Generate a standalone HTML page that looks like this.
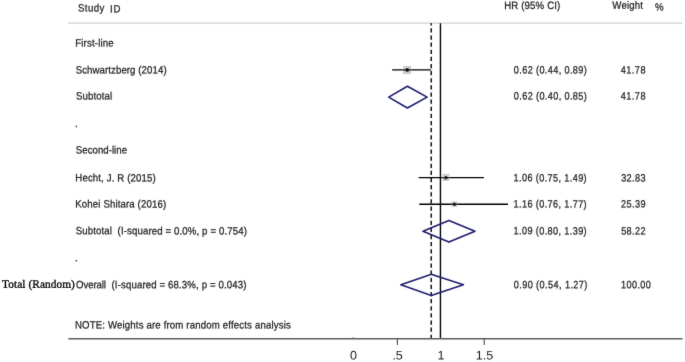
<!DOCTYPE html>
<html><head><meta charset="utf-8">
<style>
html,body{margin:0;padding:0;background:#fff;width:685px;height:362px;overflow:hidden;}
svg{display:block;}
text{font-family:"Liberation Sans",sans-serif;font-size:10.6px;fill:#222;stroke:#222;stroke-width:0.25px;white-space:pre;text-rendering:geometricPrecision;}
text.serif{font-family:"Liberation Serif",serif;font-size:11.3px;fill:#000;stroke:#000;stroke-width:0.3px;}
text.ax{font-size:12.5px;stroke:none;fill:#1a1a1a;}
</style></head>
<body>
<svg width="685" height="362" viewBox="0 0 685 362">
<defs><filter id="bl" x="0" y="0" width="685" height="362" filterUnits="userSpaceOnUse"><feConvolveMatrix order="3" kernelMatrix="0.012 0.06 0.012 0.06 0.712 0.06 0.012 0.06 0.012" divisor="1" edgeMode="duplicate"/></filter></defs>
<rect width="685" height="362" fill="#fff"/>
<g filter="url(#bl)">
<text x="0" y="11.5" class="s" textLength="28.964" lengthAdjust="spacing" transform="matrix(0.91 0.001 0 1 77.962 -0.0145)">Study</text>
<text x="0" y="12.6" class="s" textLength="11.485" lengthAdjust="spacing" transform="matrix(0.91 0.001 0 1 109.91 -0.0057)">ID</text>
<text x="0" y="8.9" class="s" textLength="61.637" lengthAdjust="spacing" transform="matrix(0.91 0.001 0 1 504.209 -0.0308)">HR (95% CI)</text>
<text x="0" y="8.8" class="s" textLength="33.531" lengthAdjust="spacing" transform="matrix(0.91 0.001 0 1 612.358 -0.0168)">Weight</text>
<text x="0" y="10.5" class="s" transform="matrix(0.92 0.001 0 1 655.052 0)">%</text>
<text x="0" y="46.6" class="s" textLength="42.33" lengthAdjust="spacing" transform="matrix(0.91 0.001 0 1 75.209 -0.0212)">First-line</text>
<text x="0" y="73.5" class="s" textLength="99.93" lengthAdjust="spacing" transform="matrix(0.91 0.001 0 1 75.662 -0.0500)">Schwartzberg (2014)</text>
<text x="0" y="99.6" class="s" textLength="39.872" lengthAdjust="spacing" transform="matrix(0.91 0.001 0 1 75.962 -0.0199)">Subtotal</text>
<text x="0" y="127.1" class="s" transform="matrix(0.92 0.001 0 1 74.91 0)">.</text>
<text x="0" y="153.5" class="s" textLength="56.227" lengthAdjust="spacing" transform="matrix(0.91 0.001 0 1 75.862 -0.0281)">Second-line</text>
<text x="0" y="181.4" class="s" textLength="88.34" lengthAdjust="spacing" transform="matrix(0.91 0.001 0 1 75.309 -0.0442)">Hecht, J. R (2015)</text>
<text x="0" y="207.6" class="s" textLength="99.769" lengthAdjust="spacing" transform="matrix(0.91 0.001 0 1 75.309 -0.0499)">Kohei Shitara (2016)</text>
<text x="0" y="234.4" class="s" textLength="188.172" lengthAdjust="spacing" transform="matrix(0.91 0.001 0 1 75.662 -0.0941)">Subtotal  (I-squared = 0.0%, p = 0.754)</text>
<text x="0" y="261.2" class="s" transform="matrix(0.92 0.001 0 1 74.91 0)">.</text>
<text x="0" y="287.7" class="serif" textLength="72.901" lengthAdjust="spacing" transform="matrix(1.0 0.001 0 1 1.996 -0.0365)">Total (Random)</text>
<text x="0" y="288.3" class="s" textLength="32.859" lengthAdjust="spacing" transform="matrix(0.91 0.001 0 1 76.043 -0.0164)">Overall</text>
<text x="0" y="288.3" class="s" textLength="148.348" lengthAdjust="spacing" transform="matrix(0.91 0.001 0 1 111.502 -0.0742)">(I-squared = 68.3%, p = 0.043)</text>
<text x="0" y="328.5" class="s" textLength="237.187" lengthAdjust="spacing" transform="matrix(0.91 0.001 0 1 74.909 -0.1186)">NOTE: Weights are from random effects analysis</text>
<text x="0" y="73.5" class="s" textLength="84.792" lengthAdjust="spacing" transform="matrix(0.86 0.001 0 1 513.844 -0.0424)">0.62 (0.44, 0.89)</text>
<text x="0" y="73.5" class="s" textLength="28.727" lengthAdjust="spacing" transform="matrix(0.86 0.001 0 1 620.791 -0.0144)">41.78</text>
<text x="0" y="99.6" class="s" textLength="84.792" lengthAdjust="spacing" transform="matrix(0.86 0.001 0 1 513.844 -0.0424)">0.62 (0.40, 0.85)</text>
<text x="0" y="99.6" class="s" textLength="28.727" lengthAdjust="spacing" transform="matrix(0.86 0.001 0 1 620.791 -0.0144)">41.78</text>
<text x="0" y="181.4" class="s" textLength="84.953" lengthAdjust="spacing" transform="matrix(0.86 0.001 0 1 513.606 -0.0425)">1.06 (0.75, 1.49)</text>
<text x="0" y="181.4" class="s" textLength="28.311" lengthAdjust="spacing" transform="matrix(0.86 0.001 0 1 621.153 -0.0142)">32.83</text>
<text x="0" y="207.6" class="s" textLength="84.953" lengthAdjust="spacing" transform="matrix(0.86 0.001 0 1 513.606 -0.0425)">1.16 (0.76, 1.77)</text>
<text x="0" y="207.6" class="s" textLength="28.477" lengthAdjust="spacing" transform="matrix(0.86 0.001 0 1 621.042 -0.0142)">25.39</text>
<text x="0" y="234.4" class="s" textLength="84.953" lengthAdjust="spacing" transform="matrix(0.86 0.001 0 1 513.606 -0.0425)">1.09 (0.80, 1.39)</text>
<text x="0" y="234.4" class="s" textLength="28.399" lengthAdjust="spacing" transform="matrix(0.86 0.001 0 1 621.135 -0.0142)">58.22</text>
<text x="0" y="288.3" class="s" textLength="85.606" lengthAdjust="spacing" transform="matrix(0.86 0.001 0 1 513.744 -0.0428)">0.90 (0.54, 1.27)</text>
<text x="0" y="288.3" class="s" textLength="34.942" lengthAdjust="spacing" transform="matrix(0.86 0.001 0 1 620.906 -0.0175)">100.00</text>
<line x1="68.2" y1="23.1" x2="682.5" y2="23.1" stroke="#cfcfcf" stroke-width="1.3"/>
<line x1="440.45" y1="23" x2="440.45" y2="338.5" stroke="#000" stroke-width="1.4"/>
<line x1="431.2" y1="23" x2="431.2" y2="338.5" stroke="#000" stroke-width="1.4" stroke-dasharray="4.2 2.926" stroke-dashoffset="1.8"/>
<rect x="403.1" y="66" width="8" height="8" fill="#cbcbcb"/>
<line x1="392.1" y1="69.9" x2="431.1" y2="69.9" stroke="#000" stroke-width="1.35"/>
<circle cx="407.2" cy="69.9" r="1.9" fill="#000"/>
<rect x="442.25" y="173.85" width="7.1" height="7.1" fill="#cfcfcf"/>
<line x1="418.7" y1="177.6" x2="483.9" y2="177.6" stroke="#000" stroke-width="1.35"/>
<circle cx="446.0" cy="177.7" r="1.8" fill="#000"/>
<rect x="451.4" y="201.2" width="5.9" height="5.9" fill="#d6d6d6"/>
<line x1="419.3" y1="204.25" x2="508" y2="204.25" stroke="#000" stroke-width="1.35"/>
<circle cx="454.4" cy="204.25" r="1.8" fill="#000"/>
<g fill="none" stroke="#1c1c6e" stroke-width="1.6" stroke-linejoin="round">
<polygon points="388.7,97.15 407.4,86.3 427.1,97.15 407.4,108"/>
<polygon points="423,231.3 448.9,220.55 474.95,231.3 448.9,242.1"/>
<polygon points="400.9,284.85 431.3,274.3 463.4,284.85 431.3,295.4"/>
</g>
<line x1="68.3" y1="338.8" x2="682.5" y2="338.8" stroke="#5c5c5c" stroke-width="1.45"/>
<line x1="353.2" y1="337.4" x2="353.2" y2="338.8" stroke="#555" stroke-width="1"/>
<line x1="397.4" y1="338.8" x2="397.4" y2="344.9" stroke="#555" stroke-width="1.2"/>
<line x1="484.25" y1="338.8" x2="484.25" y2="344.9" stroke="#555" stroke-width="1.2"/>
<text class="ax" x="353.5" y="359.4" text-anchor="middle" transform="matrix(1 0.001 0 1 0 -0.3535)">0</text>
<text class="ax" x="397.6" y="359.4" text-anchor="middle" transform="matrix(1 0.001 0 1 0 -0.3976)">.5</text>
<text class="ax" x="441.0" y="359.4" text-anchor="middle" transform="matrix(1 0.001 0 1 0 -0.4410)">1</text>
<text class="ax" x="484.5" y="359.4" text-anchor="middle" transform="matrix(1 0.001 0 1 0 -0.4845)">1.5</text>

</g>
</svg>
</body></html>
